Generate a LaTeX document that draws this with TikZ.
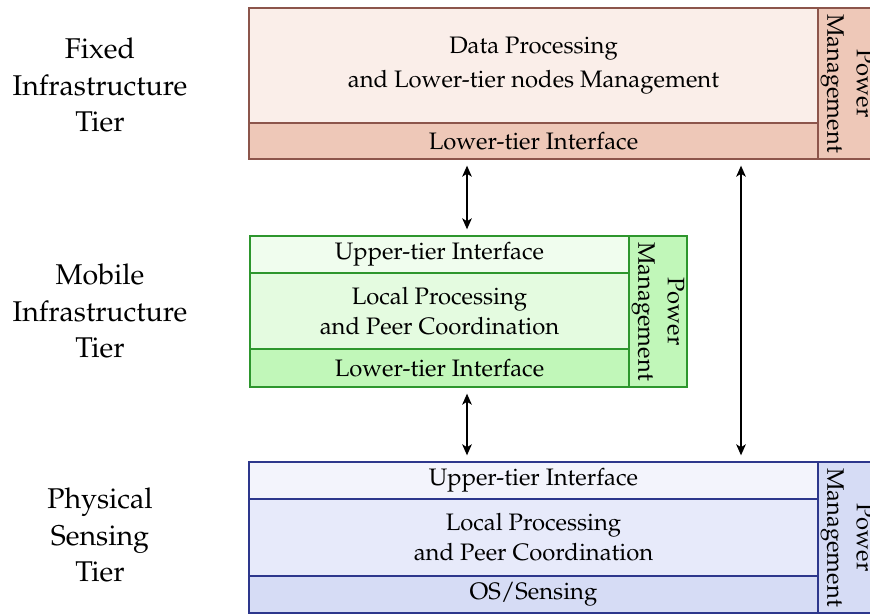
\documentclass[tikz,border=0pt]{standalone}
\usepackage[T1]{fontenc}
\usepackage{mathpazo}
\usetikzlibrary{arrows.meta}

% tier colours
\definecolor{fxborder}{RGB}{140,85,75}
\definecolor{fxmain}{RGB}{250,238,233}
\definecolor{fxband}{RGB}{238,200,184}
\definecolor{mbborder}{RGB}{45,150,45}
\definecolor{mbup}{RGB}{240,253,238}
\definecolor{mbmain}{RGB}{228,251,224}
\definecolor{mblow}{RGB}{193,247,185}
\definecolor{psborder}{RGB}{45,55,140}
\definecolor{psup}{RGB}{243,244,252}
\definecolor{psmain}{RGB}{231,234,250}
\definecolor{pslow}{RGB}{214,220,245}

\tikzset{
  % one drawing unit is 0.42pt; sizes are given in drawing units
  sect/.style 2 args={draw, line width=0.6pt, inner sep=0pt, align=center,
    minimum width=#1*0.42pt, minimum height=#2*0.42pt,
    font=\fontsize{10}{12.6}\selectfont},
  pmtext/.style={rotate=-90, align=center, inner sep=0pt,
    font=\fontsize{10}{12.4}\selectfont},
  tierlabel/.style={align=center, font=\fontsize{12}{15.5}\selectfont},
  link/.style={line width=0.8pt, {Stealth[length=4.6pt,width=4pt,inset=1.2pt]}-{Stealth[length=4.6pt,width=4pt,inset=1.2pt]},
    shorten <=2.5pt, shorten >=2.5pt}
}

\begin{document}
\begin{tikzpicture}[x=0.42pt,y=-0.42pt]
\useasboundingbox (0,0) rectangle (870,615);
\clip (0,0) rectangle (870,615);

% tier names
\node[tierlabel] (lfixed) at (100,85) {Fixed\\Infrastructure\\Tier};
\node[tierlabel] (lmobile) at (100,311) {Mobile\\Infrastructure\\Tier};
\node[tierlabel] (lphys) at (100,535) {Physical\\Sensing\\Tier};

% fixed infrastructure tier
\node[sect={569}{115}, draw=fxborder, fill=fxmain,
  font=\fontsize{10}{14.5}\selectfont] (ftmain) at (533.5,65.5)
  {Data Processing\\and Lower-tier nodes Management};
\node[sect={569}{36}, draw=fxborder, fill=fxband] (ftband) at (533.5,141)
  {Lower-tier Interface};
\node[sect={58}{151}, draw=fxborder, fill=fxband] (ftpm) at (847,83.5) {};
\node[pmtext] (ftpmt) at (ftpm.center) {Power\\Management};

% mobile infrastructure tier
\node[sect={379}{37}, draw=mbborder, fill=mbup] (mtup) at (439.5,254.5)
  {Upper-tier Interface};
\node[sect={379}{76}, draw=mbborder, fill=mbmain] (mtmain) at (439.5,311)
  {Local Processing\\and Peer Coordination};
\node[sect={379}{38}, draw=mbborder, fill=mblow] (mtlow) at (439.5,368)
  {Lower-tier Interface};
\node[sect={58}{151}, draw=mbborder, fill=mblow] (mtpm) at (658,311.5) {};
\node[pmtext] (mtpmt) at (mtpm.center) {Power\\Management};

% physical sensing tier
\node[sect={569}{37}, draw=psborder, fill=psup] (ptup) at (533.5,480.5)
  {Upper-tier Interface};
\node[sect={569}{77}, draw=psborder, fill=psmain] (ptmain) at (533.5,537.5)
  {Local Processing\\and Peer Coordination};
\node[sect={569}{37}, draw=psborder, fill=pslow] (ptlow) at (533.5,594.5)
  {OS/Sensing};
\node[sect={58}{151}, draw=psborder, fill=pslow] (ptpm) at (847,537.5) {};
\node[pmtext] (ptpmt) at (ptpm.center) {Power\\Management};

% links between tiers
\coordinate (xa) at (467,0);
\coordinate (xb) at (741,0);
\draw[link] (ftband.south -| xa) -- (mtup.north -| xa);
\draw[link] (mtlow.south -| xa) -- (ptup.north -| xa);
\draw[link] (ftband.south -| xb) -- (ptup.north -| xb);
\end{tikzpicture}
\end{document}
